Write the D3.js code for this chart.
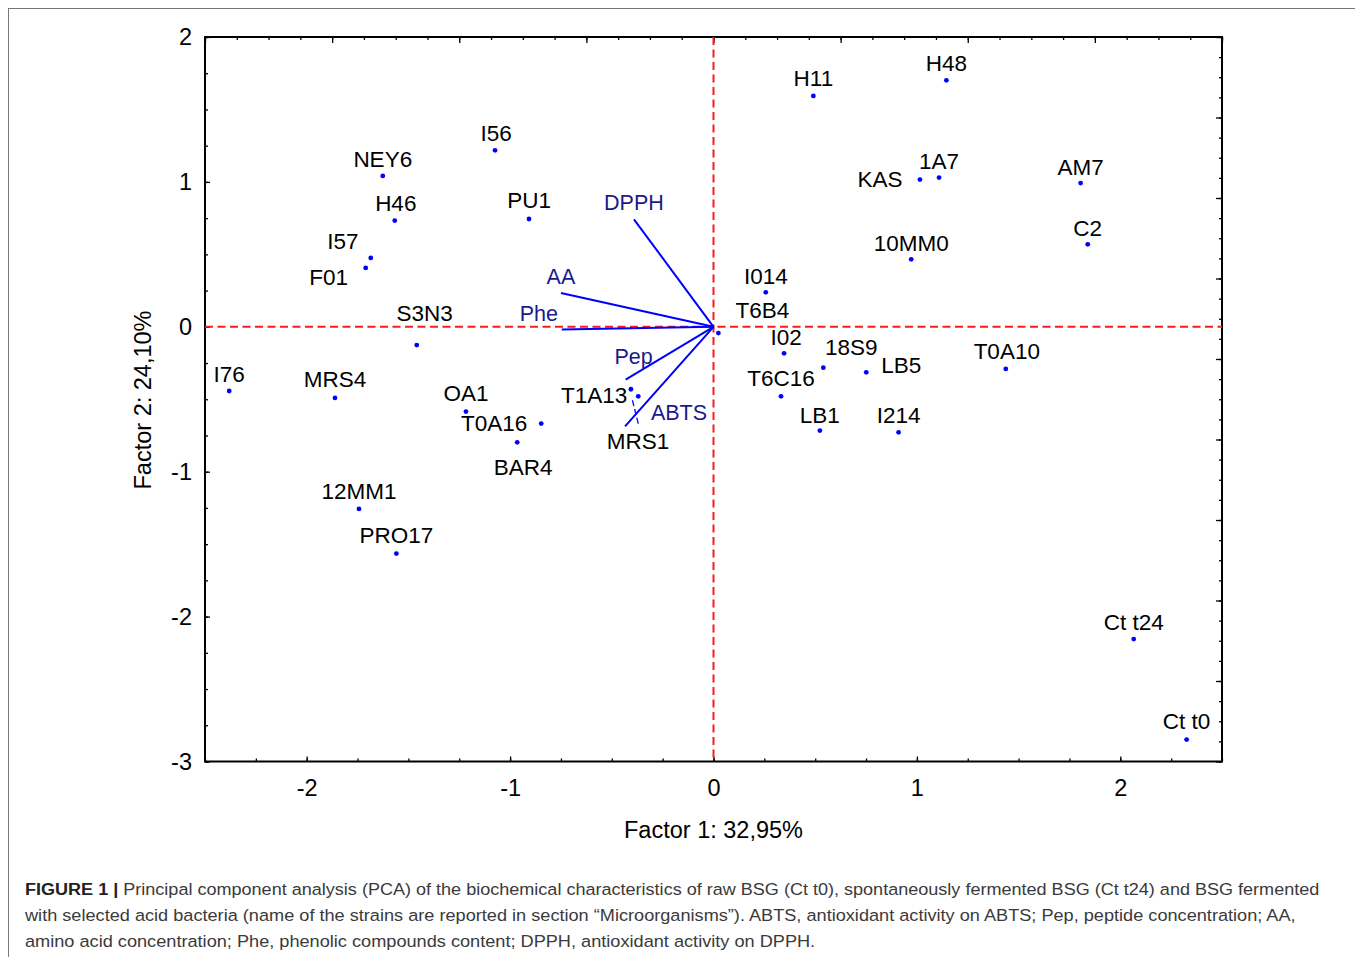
<!DOCTYPE html>
<html><head><meta charset="utf-8">
<script src="https://cdn.jsdelivr.net/npm/d3@7"></script>
<style>body{margin:0;background:#fff}svg{display:block}</style>
</head><body>
<svg id="chart" width="1355" height="957"></svg>
<script>
// ---- data ----
const names = ["H11","H48","1A7","KAS","AM7","C2","10MM0","I014","T6B4","I02","18S9","LB5","T0A10","T6C16","LB1","I214","T1A13","MRS1","T0A16","BAR4","OA1","S3N3","MRS4","I76","12MM1","PRO17","NEY6","H46","I57","F01","I56","PU1","Ct t24","Ct t0"];
const factor1 = [0.491,1.145,1.109,1.015,1.805,1.840,0.972,0.257,0.024,0.347,0.540,0.751,1.437,0.332,0.523,0.910,-0.370,-0.406,-0.847,-0.965,-1.217,-1.459,-1.861,-2.381,-1.743,-1.559,-1.626,-1.567,-1.685,-1.710,-1.074,-0.907,2.066,2.326];
const factor2 = [1.593,1.701,1.030,1.016,0.992,0.569,0.466,0.238,-0.043,-0.183,-0.282,-0.314,-0.291,-0.480,-0.716,-0.728,-0.480,-0.431,-0.668,-0.797,-0.585,-0.126,-0.491,-0.443,-1.257,-1.565,1.041,0.733,0.475,0.406,1.218,0.744,-2.155,-2.849];
// label placement offsets (px, relative to point)
const labelDx = [0,0,0,-40,0,0,0,0,44,2,28,35,1,0,0,0,-44,7,-47,6,0,8,0,0,0,0,0,1,-28,-37,1,0,0,0];
const labelDy = [-17,-17,-16,0,-16,-16,-16,-16,-23,-16,-20,-7,-17,-18,-15,-17,-1,52,0,25,-18,-32,-18,-16,-17,-18,-16,-17,-16,10,-17,-18,-17,-18];

const variables = ["DPPH","AA","Phe","Pep","ABTS"];
const loading1 = [-0.391,-0.750,-0.746,-0.432,-0.435];
const loading2 = [0.742,0.233,-0.019,-0.364,-0.687];
const varLabelDx = [0,0,-23,8,54];
const varLabelDy = [-16,-16,-16,-23,-13];

const xTickValues = [-2,-1,0,1,2];
const yTickValues = [-3,-2,-1,0,1,2];
const xTitle = "Factor 1: 32,95%";
const yTitle = "Factor 2: 24,10%";
const captionBold = "FIGURE 1 | ";
const captionLines = [
 "Principal component analysis (PCA) of the biochemical characteristics of raw BSG (Ct t0), spontaneously fermented BSG (Ct t24) and BSG fermented",
 "with selected acid bacteria (name of the strains are reported in section \u201cMicroorganisms\u201d). ABTS, antioxidant activity on ABTS; Pep, peptide concentration; AA,",
 "amino acid concentration; Phe, phenolic compounds content; DPPH, antioxidant activity on DPPH."
];

// ---- layout ----
const L = 205, R = 1222, T = 37, B = 761.5;
const FONT = "'Liberation Sans', Arial, Helvetica, sans-serif";
const svg = d3.select("#chart");

// figure border
svg.append("rect").attr("x",8.5).attr("y",8.5).attr("width",1400).attr("height",1000)
  .attr("fill","none").attr("stroke","#777").attr("stroke-width",1);

const x = d3.scaleLinear().domain([-2.5,2.5]).range([L,R]);
const y = d3.scaleLinear().domain([-3,2]).range([B,T]);
const xTop = d3.scaleLinear().domain([-1,1]).range([L,R]);
const yRight = d3.scaleLinear().domain([-1,0.8]).range([B,T]);

function styleAxis(g){ g.select(".domain").remove(); g.selectAll("line").attr("stroke","#000").attr("stroke-width",1.3); g.selectAll("text").attr("font-family",FONT).attr("font-size",23.5).attr("fill","#000"); }
const plainFmt = d => String(d);

const xMinor = d3.range(-2.5,2.5001,0.25);
const yMinor = d3.range(-3,2.0001,0.25);
svg.append("g").attr("transform",`translate(0,${B})`).call(d3.axisBottom(x).tickValues(xMinor).tickSizeInner(-3).tickSizeOuter(0).tickFormat("")).call(styleAxis);
svg.append("g").attr("transform",`translate(0,${B})`).call(d3.axisBottom(x).tickValues(xTickValues).tickSizeInner(-5).tickSizeOuter(0).tickPadding(18).tickFormat(plainFmt)).call(styleAxis);
svg.append("g").attr("transform",`translate(${L},0)`).call(d3.axisLeft(y).tickValues(yMinor).tickSizeInner(-3).tickSizeOuter(0).tickFormat("")).call(styleAxis);
svg.append("g").attr("transform",`translate(${L},0)`).call(d3.axisLeft(y).tickValues(yTickValues).tickSizeInner(-5).tickSizeOuter(0).tickPadding(13).tickFormat(plainFmt)).call(styleAxis);
// secondary axes (loadings)
svg.append("g").attr("transform",`translate(0,${T})`).call(d3.axisTop(xTop).tickValues(d3.range(-1,1.0001,0.0625)).tickSizeInner(-3).tickSizeOuter(0).tickFormat("")).call(styleAxis);
svg.append("g").attr("transform",`translate(0,${T})`).call(d3.axisTop(xTop).tickValues(d3.range(-1,1.0001,0.25)).tickSizeInner(-6).tickSizeOuter(0).tickFormat("")).call(styleAxis);
svg.append("g").attr("transform",`translate(${R},0)`).call(d3.axisRight(yRight).tickValues(d3.range(-1,0.8001,0.05)).tickSizeInner(-3).tickSizeOuter(0).tickFormat("")).call(styleAxis);
svg.append("g").attr("transform",`translate(${R},0)`).call(d3.axisRight(yRight).tickValues(d3.range(-1,0.8001,0.2)).tickSizeInner(-6).tickSizeOuter(0).tickFormat("")).call(styleAxis);

// frame
svg.append("rect").attr("x",L).attr("y",T).attr("width",R-L).attr("height",B-T)
  .attr("fill","none").attr("stroke","#000").attr("stroke-width",2);

// zero lines
svg.append("line").attr("x1",L).attr("x2",R).attr("y1",y(0)).attr("y2",y(0))
  .attr("stroke","#ff1a1a").attr("stroke-width",2).attr("stroke-dasharray","8,4.5");
svg.append("line").attr("x1",x(0)).attr("x2",x(0)).attr("y1",T).attr("y2",B)
  .attr("stroke","#ff1a1a").attr("stroke-width",2).attr("stroke-dasharray","8,4.5");

// axis titles
svg.append("text").attr("x",x(0)).attr("y",830).attr("text-anchor","middle").attr("dominant-baseline","central")
  .attr("font-family",FONT).attr("font-size",23.5).text(xTitle);
svg.append("text").attr("transform",`translate(143,400) rotate(-90)`).attr("text-anchor","middle").attr("dominant-baseline","central")
  .attr("font-family",FONT).attr("font-size",23.5).text(yTitle);

// vectors
const vecs = variables.map((v,i)=>({v, a:loading1[i], b:loading2[i], dx:varLabelDx[i], dy:varLabelDy[i]}));
svg.append("g").selectAll("line").data(vecs).join("line")
  .attr("x1",x(0)).attr("y1",y(0)).attr("x2",d=>x(d.a)).attr("y2",d=>y(d.b))
  .attr("stroke","#0000ff").attr("stroke-width",2);
svg.append("g").selectAll("text").data(vecs).join("text")
  .attr("x",d=>x(d.a)+d.dx).attr("y",d=>y(d.b)+d.dy)
  .attr("text-anchor","middle").attr("dominant-baseline","central")
  .attr("font-family",FONT).attr("font-size",21.5).attr("fill","#1a1a8c").text(d=>d.v);

// points
const pts = names.map((n,i)=>({n, a:factor1[i], b:factor2[i], dx:labelDx[i], dy:labelDy[i]}));
// leader for MRS1
const mrs = pts.find(p=>p.n==="MRS1");
svg.append("line").attr("x1",x(mrs.a)+1.5).attr("y1",y(mrs.b)+11).attr("x2",x(mrs.a)+8).attr("y2",y(mrs.b)+37)
  .attr("stroke","#0000ff").attr("stroke-width",1.3).attr("stroke-dasharray","6,3");
svg.append("g").selectAll("circle").data(pts).join("circle")
  .attr("cx",d=>x(d.a)).attr("cy",d=>y(d.b)).attr("r",2.4).attr("fill","#0000ff");
svg.append("g").selectAll("text").data(pts).join("text")
  .attr("x",d=>x(d.a)+d.dx).attr("y",d=>y(d.b)+d.dy)
  .attr("text-anchor","middle").attr("dominant-baseline","central")
  .attr("font-family",FONT).attr("font-size",22.5).attr("fill","#000").text(d=>d.n);

// caption
const capBase = [895, 921, 946.5];
const capWidths = [1296, 1272, 791];
captionLines.forEach((line,i)=>{
  const t = svg.append("text").attr("x",0).attr("y",0)
    .attr("font-family",FONT).attr("font-size",17).attr("fill","#3a3a3a");
  if(i===0){ t.append("tspan").attr("font-weight","bold").attr("fill","#222").text(captionBold); }
  t.append("tspan").text(line);
  const w = t.node().getBBox().width;
  t.attr("transform",`translate(25,${capBase[i]}) scale(${capWidths[i]/w},1)`);
});
</script>
</body></html>
